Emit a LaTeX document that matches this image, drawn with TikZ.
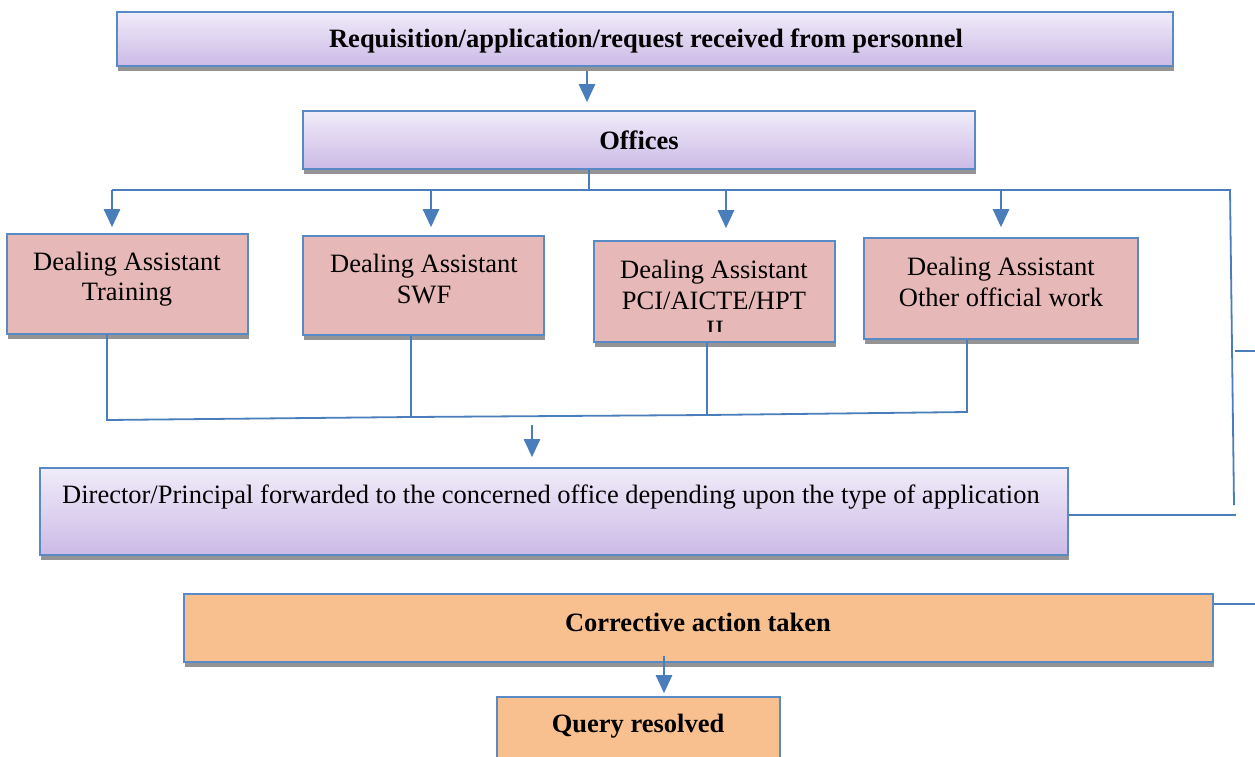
\documentclass[tikz,border=0pt]{standalone}
\usepackage{fontspec}
\setmainfont{Liberation Serif}
\usetikzlibrary{shadows,arrows.meta}
\definecolor{bord}{HTML}{5A8AC6}
\definecolor{conn}{HTML}{4A7EBB}
\definecolor{pinkf}{HTML}{E6B8B7}
\definecolor{orng}{HTML}{F8C08F}
\definecolor{lavtop}{HTML}{F0ECF9}
\definecolor{lavbot}{HTML}{CCBAE6}
\begin{document}
\begin{tikzpicture}[x=1pt,y=-1pt,
  shad/.style={drop shadow={shadow xshift=1pt,shadow yshift=-4.5pt,fill=black!42,opacity=1}},
  lav/.style={draw=bord,line width=1.6pt,top color=lavtop,bottom color=lavbot,inner sep=0pt,shad},
  pnk/.style={draw=bord,line width=1.6pt,fill=pinkf,inner sep=0pt,shad},
  org/.style={draw=bord,line width=1.6pt,fill=orng,inner sep=0pt,shad},
  txt/.style={font=\fontsize{26.5}{30.5}\selectfont,align=center,inner sep=0pt},
  btxt/.style={txt,font=\fontsize{26.5}{30.5}\selectfont\bfseries},
  cn/.style={draw=conn,line width=1.8pt},
  arr/.style={draw=conn,line width=2.6pt,-{Triangle[length=18pt,width=16pt]}}]
\useasboundingbox (0,0) rectangle (1255,756);
% boxes
\node[lav,minimum width=1056pt,minimum height=54pt] (b1) at (645,39) {};
\node[lav,minimum width=672pt,minimum height=58pt] (b2) at (639,140) {};
\node[pnk,minimum width=241pt,minimum height=100pt] (pa) at (127.5,284) {};
\node[pnk,minimum width=241pt,minimum height=99pt] (pb) at (423.5,285.5) {};
\node[pnk,minimum width=241pt,minimum height=101pt] (pc) at (714.5,291.5) {};
\node[pnk,minimum width=274pt,minimum height=101pt] (pd) at (1001,288.5) {};
\node[lav,minimum width=1028pt,minimum height=87pt] (dir) at (554,511.5) {};
\node[org,minimum width=1029pt,minimum height=68pt] (cor) at (698.5,628) {};
\node[org,minimum width=283pt,minimum height=64pt] (qr) at (638.5,729) {};
% texts
\node[btxt] (t1) at (646,41) {Requisition/application/request received from personnel};
\node[btxt] (t2) at (639,140) {Offices};
\node[txt] (ta) at (127,279) {Dealing Assistant\\Training};
\node[txt] (tb) at (424,279) {Dealing Assistant\\SWF};
\node[txt] (tc) at (714,285) {Dealing Assistant\\PCI/AICTE/HPT};
\begin{scope}
\clip (600,300) rectangle (830,331);
\node[txt,anchor=base] (tc2) at (715,338) {II};
\end{scope}
\node[txt] (td) at (1001,282) {Dealing Assistant\\Other official work};
\node[txt,anchor=west] (tdir) at (62,497) {Director/Principal forwarded to the concerned office depending upon the type of application};
\node[btxt] (tcor) at (698,622) {Corrective action taken};
\node[btxt] (tqr) at (638,726) {Query resolved};
% coordinates
\coordinate (x587) at (587,0);
\coordinate (j) at (589,190);
\coordinate (hl) at (112,190);
\coordinate (hr) at (1230,190);
\coordinate (vr) at (1234,505);
\coordinate (ka) at (112,190);
\coordinate (kb) at (431,190);
\coordinate (kc) at (726,190);
\coordinate (kd) at (1001,190);
\coordinate (ma) at (107,420);
\coordinate (mb) at (411,417);
\coordinate (mc) at (707,415);
\coordinate (md) at (967,412);
\coordinate (m2) at (532,425);
\coordinate (r1) at (1236,515);
\coordinate (s1) at (1235,351);
\coordinate (s2) at (1255,351);
\coordinate (s3) at (1255,604);
\coordinate (x664) at (664,0);
% connectors
\draw[arr,shorten <=4pt,shorten >=8pt] (b1.south -| x587) -- (b2.north -| x587);
\draw[cn] (b2.south -| j) -- (j);
\draw[cn] (hl) -- (hr) -- (vr);
\draw[arr,shorten >=6pt] (ka) -- (pa.north -| ka);
\draw[arr,shorten >=8pt] (kb) -- (pb.north -| kb);
\draw[arr,shorten >=12pt] (kc) -- (pc.north -| kc);
\draw[arr,shorten >=10pt] (kd) -- (pd.north -| kd);
\draw[cn] (pa.south -| ma) -- (ma) -- (mb) -- (mc) -- (md) -- (pd.south -| md);
\draw[cn] (pb.south -| mb) -- (mb);
\draw[cn] (pc.south -| mc) -- (mc);
\draw[arr,shorten >=10pt] (m2) -- (dir.north -| m2);
\draw[cn] (dir.east |- r1) -- (r1);
\draw[cn] (s1) -- (s2);
\draw[cn] (cor.east |- s3) -- (s3);
\draw[arr,shorten <=-7pt,shorten >=3pt] (cor.south -| x664) -- (qr.north -| x664);
\end{tikzpicture}
\end{document}
